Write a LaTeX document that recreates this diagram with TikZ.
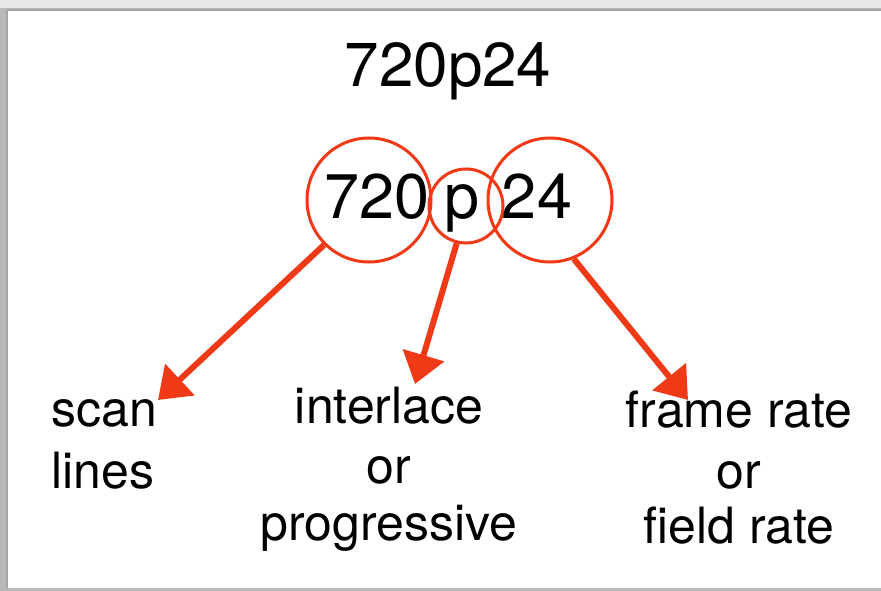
\documentclass[tikz,border=0pt]{standalone}
\usepackage{fontspec}
\setmainfont{TeX Gyre Heros}
\usetikzlibrary{arrows.meta}
\definecolor{arr}{RGB}{240,58,23}
\begin{document}
\begin{tikzpicture}[x=1pt,y=-1pt,
  ring/.style={circle,draw=arr,line width=3pt,inner sep=0pt},
  lbl/.style={anchor=base,inner sep=0pt,font=\fontsize{50}{59}\selectfont},
  big/.style={anchor=base,inner sep=0pt,font=\fontsize{63}{70}\selectfont},
  pointer/.style={draw=arr,line width=6pt,-{Triangle[length=30pt,width=42pt]}}]
\useasboundingbox (0,0) rectangle (881,591);
% window frame
\fill[gray!55] (0,0) rectangle (881,591);
\fill[gray!18] (0,0) rectangle (881,8);
\fill[white] (7,10) rectangle (881,588);
\draw[gray!70,line width=1.2pt] (7,10) -- (881,10);
\draw[gray!70,line width=1.2pt] (7,10) -- (7,588);
% title
\node[big,font=\fontsize{62}{70}\selectfont] (title) at (448,87) {720p24};
% circles
\node[ring,minimum size=124pt] (c720) at (369,200) {};
\node[ring,minimum size=74pt] (cp) at (466,206) {};
\node[ring,minimum size=124pt] (c24) at (550,200) {};
% circle texts
\node[big] (t720) at (377,218) {720};
\node[big] (tp) at (462,218) {p};
\node[big] (t24) at (537,218) {24};
% labels
\node[lbl,anchor=base west] (scan) at (51,426) {scan};
\node[lbl,anchor=base west] (lines) at (51,488) {lines};
\node[lbl] (inter) at (389,423) {interlace};
\node[lbl] (or1) at (389,483) {or};
\node[lbl] (prog) at (389,540) {progressive};
\node[lbl] (frame) at (739,427) {frame rate};
\node[lbl] (or2) at (739,488) {or};
\node[lbl] (field) at (739,543) {field rate};
% arrow tips
\coordinate (tipA) at (158,400);
\coordinate (tipB) at (415,384);
\coordinate (tipC) at (688,400);
\draw[pointer] (c720.-135) -- (tipA);
\draw[pointer] (cp.-104) -- (tipB);
\draw[pointer] (c24.-68) -- (tipC);
\end{tikzpicture}
\end{document}
